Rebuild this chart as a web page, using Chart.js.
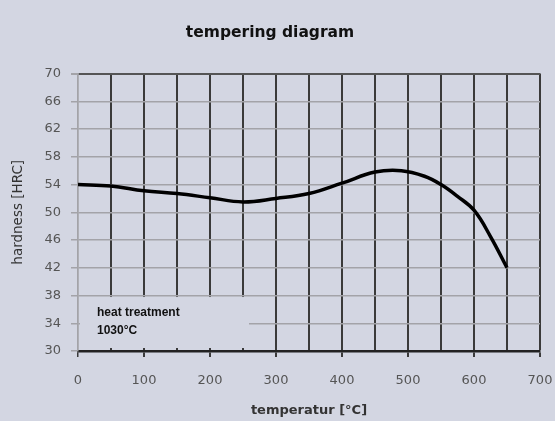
<!DOCTYPE html>
<html>
<head>
<meta charset="utf-8">
<script src="https://cdn.jsdelivr.net/npm/chart.js@4"></script>
<style>
  html, body { margin: 0; padding: 0; background: #d3d6e2; }
  #wrap { width: 555px; height: 421px; }
</style>
</head>
<body>
<div id="wrap"><canvas id="c" width="555" height="421"></canvas></div>
<script>
// ---- data ----
const temperatures = [0, 50, 100, 150, 200, 250, 300, 350, 400, 450, 490, 525, 550, 575, 600, 625, 650];
const hardness     = [54.0, 53.8, 53.1, 52.7, 52.1, 51.5, 52.0, 52.7, 54.2, 55.8, 56.0, 55.2, 54.0, 52.3, 50.3, 46.5, 42.0];
const xTickLabels  = ['0', '100', '200', '300', '400', '500', '600', '700'];
const yTickValues  = [30, 34, 38, 42, 46, 50, 54, 58, 62, 66, 70];
const titleText    = 'tempering diagram';
const xTitle       = 'temperatur [°C]';
const yTitle       = 'hardness [HRC]';
const noteLines    = ['heat treatment', '1030°C'];

const points = temperatures.map((t, i) => ({ x: t, y: hardness[i] }));

const noteBox = {
  id: 'noteBox',
  beforeDatasetsDraw(chart) {
    const { ctx, scales: { x, y } } = chart;
    const left = x.getPixelForValue(0) + 2;
    const right = x.getPixelForValue(0) + 171;
    const top = y.getPixelForValue(38) + 1.5;
    const bottom = y.getPixelForValue(30) - 3;
    ctx.save();
    ctx.fillStyle = '#d3d6e2';
    ctx.fillRect(left, top, right - left, bottom - top);
    ctx.fillStyle = '#111';
    ctx.font = 'bold 12px "Liberation Sans", Arial, sans-serif';
    ctx.textBaseline = 'middle';
    ctx.textAlign = 'left';
    ctx.fillText(noteLines[0], left + 17, top + 16);
    ctx.fillText(noteLines[1], left + 17, top + 34);
    ctx.restore();
  }
};

new Chart(document.getElementById('c'), {
  type: 'line',
  data: {
    datasets: [{
      data: points,
      borderColor: '#000',
      borderWidth: 3.5,
      pointRadius: 0,
      fill: false,
      tension: 0.4
    }]
  },
  options: {
    responsive: false,
    animation: false,
    layout: { padding: { left: 0, right: 15, top: 0, bottom: 0 } },
    plugins: {
      legend: { display: false },
      tooltip: { enabled: false },
      title: {
        display: true,
        text: titleText,
        color: '#111',
        font: { family: '"DejaVu Sans", sans-serif', size: 15.5, weight: 'bold' },
        padding: { top: 24, bottom: 31 }
      }
    },
    scales: {
      x: {
        type: 'linear',
        min: 0, max: 700,
        afterFit(s) { s.height = 70; s.paddingLeft = 0; s.paddingRight = 0; },
        afterBuildTicks(s) {
          const t = [];
          for (let v = 0; v <= 700; v += 50) t.push({ value: v });
          s.ticks = t;
        },
        ticks: {
          color: '#555',
          font: { family: '"DejaVu Sans", sans-serif', size: 13 },
          padding: 16,
          maxRotation: 0,
          autoSkip: false,
          callback(v) { return v % 100 === 0 ? xTickLabels[v / 100] : ''; }
        },
        grid: {
          color(c) { return c.index === 0 ? '#a3a3a8' : '#3a3a3a'; },
          lineWidth(c) { return c.index === 0 ? 1.5 : 2; },
          tickColor(c) { return (c.tick && c.tick.value % 100 === 0) ? '#3a3a3a' : 'rgba(0,0,0,0)'; },
          tickLength: 6
        },
        border: { display: true, color: '#222', width: 2.5 },
        title: {
          display: true,
          text: xTitle,
          color: '#333',
          font: { family: '"DejaVu Sans", sans-serif', size: 13, weight: 'bold' },
          padding: { top: 4, bottom: 3 }
        }
      },
      y: {
        min: 30, max: 70,
        afterFit(s) { s.width = 78; },
        afterBuildTicks(s) { s.ticks = yTickValues.map(v => ({ value: v })); },
        ticks: {
          color: '#555',
          font: { family: '"DejaVu Sans", sans-serif', size: 13 },
          padding: 10
        },
        grid: {
          color(c) {
            if (c.tick && c.tick.value === 70) return '#555';
            return '#a3a3a8';
          },
          lineWidth(c) { return (c.tick && c.tick.value === 70) ? 2 : 1.5; },
          tickColor: '#a3a3a8',
          tickLength: 7
        },
        border: { display: true, color: '#a3a3a8', width: 1.5 },
        title: {
          display: true,
          text: yTitle,
          color: '#333',
          font: { family: '"DejaVu Sans", sans-serif', size: 13.5 },
          padding: { top: 10, bottom: 4 }
        }
      }
    }
  },
  plugins: [noteBox]
});
</script>
</body>
</html>
